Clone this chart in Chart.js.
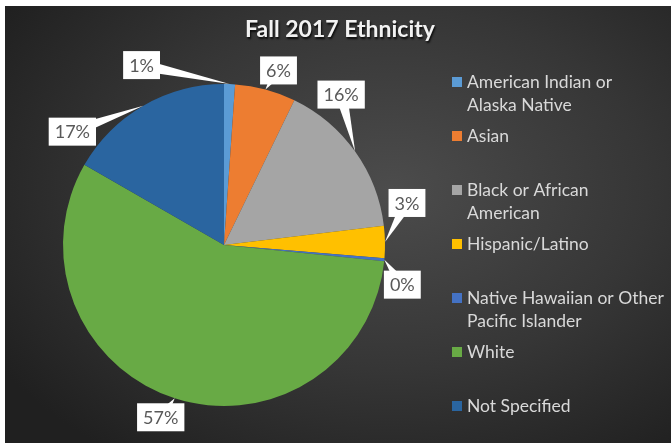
<!DOCTYPE html>
<html>
<head>
<meta charset="utf-8">
<script src="https://cdn.jsdelivr.net/npm/chart.js@4.4.0/dist/chart.umd.min.js"></script>
<style>
  html, body { margin: 0; padding: 0; background: #fff; }
  #wrap {
    position: absolute; left: 5px; top: 6px; width: 666px; height: 437px;
    background: radial-gradient(ellipse 70% 75% at 58% 42%, #4c4c4c 0%, #363636 55%, #202020 100%);
  }
</style>
</head>
<body>
<div id="wrap"><canvas id="ethnicityChart"></canvas></div>
<script>
// chart data
const title = "Fall 2017 Ethnicity";
const categories = [
  ["American Indian or", "Alaska Native"],
  ["Asian"],
  ["Black or African", "American"],
  ["Hispanic/Latino"],
  ["Native Hawaiian or Other", "Pacific Islander"],
  ["White"],
  ["Not Specified"],
];
const percentages = [1.1, 6.1, 15.9, 3.2, 0.3, 56.7, 16.7];
const sliceColors = ["#5B9BD5", "#ED7D31", "#A5A5A5", "#FFC000", "#4472C4", "#68AA45", "#2A65A0"];

// callout box offsets from the slice edge (px)
const calloutOffsets = [
  [-88, -19], [13, -19], [-14, -57], [22, -39], [18, 25], [-14, 19], [-71, 26],
];

const FONT = "Lato, 'Open Sans', sans-serif";

const decorations = {
  id: "decorations",
  afterDatasetsDraw(chart) {
    const ctx = chart.ctx;
    const arcs = chart.getDatasetMeta(0).data;

    // title
    ctx.save();
    ctx.font = "bold 23px " + FONT;
    ctx.textAlign = "center";
    ctx.textBaseline = "middle";
    ctx.shadowColor = "rgba(0,0,0,0.8)";
    ctx.shadowOffsetX = 1;
    ctx.shadowOffsetY = 2;
    ctx.shadowBlur = 2;
    ctx.fillStyle = "#f2f2f2";
    ctx.fillText(title, 335, 24);
    ctx.restore();

    // callouts
    ctx.save();
    ctx.font = "18px " + FONT;
    ctx.textAlign = "center";
    ctx.textBaseline = "middle";
    arcs.forEach((arc, i) => {
      const p = arc.getProps(["x", "y", "startAngle", "endAngle", "outerRadius"], true);
      const mid = (p.startAngle + p.endAngle) / 2;
      const ax = p.x + Math.cos(mid) * p.outerRadius;
      const ay = p.y + Math.sin(mid) * p.outerRadius;
      const bx = ax + calloutOffsets[i][0];
      const by = ay + calloutOffsets[i][1];
      const text = Math.round(percentages[i]) + "%";
      const w = ctx.measureText(text).width + 12;
      const h = 28;
      // pointer
      const dx = ax - bx, dy = ay - by;
      const len = Math.hypot(dx, dy) || 1;
      const nx = -dy / len * 6, ny = dx / len * 6;
      ctx.fillStyle = "#ffffff";
      ctx.beginPath();
      ctx.moveTo(bx + nx, by + ny);
      ctx.lineTo(bx - nx, by - ny);
      ctx.lineTo(ax, ay);
      ctx.closePath();
      ctx.fill();
      ctx.fillRect(bx - w / 2, by - h / 2, w, h);
      ctx.fillStyle = "#595959";
      ctx.fillText(text, bx, by + 1);
    });
    ctx.restore();

    // legend
    ctx.save();
    ctx.font = "17.5px " + FONT;
    ctx.textBaseline = "middle";
    ctx.textAlign = "left";
    const lx = 447, ly = 76, step = 54, lineH = 23;
    categories.forEach((lines, i) => {
      const y = ly + i * step;
      ctx.fillStyle = sliceColors[i];
      ctx.fillRect(lx, y - 5, 10, 10);
      ctx.fillStyle = "#d9d9d9";
      lines.forEach((t, j) => ctx.fillText(t, lx + 15, y + j * lineH));
    });
    ctx.restore();
  },
};

new Chart(document.getElementById("ethnicityChart"), {
  type: "pie",
  data: {
    labels: categories.map((c) => c.join(" ")),
    datasets: [
      {
        data: percentages,
        backgroundColor: sliceColors,
        borderWidth: 0,
        hoverOffset: 0,
      },
    ],
  },
  options: {
    responsive: true,
    maintainAspectRatio: false,
    animation: false,
    layout: { padding: { left: 58, top: 78, right: 286, bottom: 37 } },
    plugins: {
      legend: { display: false },
      tooltip: { enabled: false },
    },
  },
  plugins: [decorations],
});
</script>
</body>
</html>
